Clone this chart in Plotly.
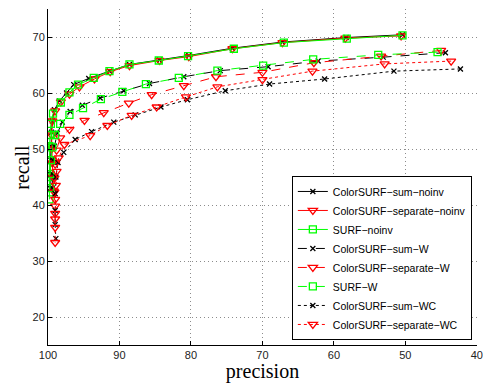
import plotly.graph_objects as go

# ---- data (precision, recall) ----
x_sum_noinv = [50.4, 58.3, 67.2, 74.2, 80.3, 84.4, 88.6, 91.4, 94.3, 96.4, 97.4, 98.4, 99.1, 99.4, 99.5, 99.6, 99.6, 99.7, 99.7]
y_sum_noinv = [70.4, 69.9, 69.1, 68.0, 66.7, 65.9, 65.1, 63.9, 62.6, 61.5, 60.0, 58.6, 57.0, 55.0, 53.0, 50.5, 48.0, 45.5, 43.0]

x_sep_noinv = [50.6, 58.4, 67.2, 74.2, 80.3, 84.4, 88.6, 91.3, 93.5, 95.6, 97.0, 98.2, 99.0, 99.4, 99.5, 99.5, 99.4, 99.3, 99.2]
y_sep_noinv = [70.2, 69.8, 69.0, 67.9, 66.5, 65.8, 64.9, 63.8, 62.5, 61.1, 59.8, 58.4, 56.8, 55.0, 52.5, 50.0, 47.5, 45.0, 42.5]

x_surf_noinv = [50.4, 58.2, 67.0, 74.0, 80.4, 84.5, 88.6, 91.4, 93.6, 95.8, 97.0, 98.2, 99.3, 99.6, 99.7, 99.8, 99.8, 99.8, 99.8]
y_surf_noinv = [70.3, 69.7, 69.0, 67.9, 66.6, 65.8, 65.1, 63.9, 62.7, 61.5, 60.1, 58.3, 56.3, 54.5, 52.5, 50.5, 48.0, 45.0, 41.0]

x_sum_w = [44.4, 53.1, 62.2, 69.2, 75.9, 81.0, 85.8, 89.4, 92.7, 95.2, 96.9, 98.0, 98.7, 99.1, 99.3, 99.4, 99.4]
y_sum_w = [67.2, 66.4, 65.7, 64.7, 64.0, 62.9, 61.7, 60.4, 59.1, 57.8, 56.7, 54.8, 52.8, 50.5, 48.0, 45.5, 43.0]

x_sep_w = [45.0, 53.4, 62.8, 70.0, 76.5, 81.0, 85.5, 88.7, 92.2, 94.9, 97.0, 98.3, 98.8, 99.0, 99.1, 99.1, 99.0, 99.0]
y_sep_w = [67.6, 66.6, 65.4, 63.7, 62.9, 61.3, 59.7, 58.2, 56.5, 55.1, 53.5, 52.0, 49.8, 47.3, 44.8, 42.3, 39.8, 37.5]

x_surf_w = [45.5, 53.8, 62.9, 69.9, 76.3, 81.7, 86.3, 89.6, 92.6, 95.1, 97.0, 98.3, 99.0, 99.4, 99.6, 99.7, 99.7]
y_surf_w = [67.3, 66.8, 66.0, 64.9, 64.0, 62.7, 61.6, 60.2, 58.9, 57.3, 56.1, 54.5, 52.5, 50.3, 48.0, 45.5, 43.0]

x_sum_wc = [42.3, 51.6, 61.3, 69.0, 75.2, 80.5, 84.2, 87.8, 90.8, 93.9, 96.2, 97.8, 98.6, 98.9, 99.0, 99.0, 99.0, 98.9]
y_sum_wc = [64.3, 63.9, 62.5, 61.6, 60.4, 58.8, 57.5, 56.1, 54.8, 53.1, 51.7, 49.4, 47.6, 45.0, 42.0, 39.0, 36.5, 34.0]

x_sep_wc = [43.6, 52.9, 63.0, 70.0, 76.3, 80.7, 84.8, 88.3, 91.7, 94.1, 97.7, 98.5, 98.8, 98.9, 99.0, 99.0, 99.0, 99.0]
y_sep_wc = [65.7, 65.2, 63.9, 62.4, 61.1, 59.3, 57.5, 56.0, 54.2, 52.4, 50.8, 48.4, 46.0, 43.5, 41.0, 38.5, 36.0, 33.3]

x_ticks = [100, 90, 80, 70, 60, 50, 40]
y_ticks = [20, 30, 40, 50, 60, 70]

series = [
    ("ColorSURF\u2212sum\u2212noinv", x_sum_noinv, y_sum_noinv, "#000000", "solid", "x-thin", 5),
    ("ColorSURF\u2212separate\u2212noinv", x_sep_noinv, y_sep_noinv, "#ff0000", "solid", "triangle-down-open", 8),
    ("SURF\u2212noinv", x_surf_noinv, y_surf_noinv, "#00ff00", "solid", "square-open", 7),
    ("ColorSURF\u2212sum\u2212W", x_sum_w, y_sum_w, "#000000", "dash", "x-thin", 5),
    ("ColorSURF\u2212separate\u2212W", x_sep_w, y_sep_w, "#ff0000", "dash", "triangle-down-open", 8),
    ("SURF\u2212W", x_surf_w, y_surf_w, "#00ff00", "dash", "square-open", 7),
    ("ColorSURF\u2212sum\u2212WC", x_sum_wc, y_sum_wc, "#000000", "dot", "x-thin", 5),
    ("ColorSURF\u2212separate\u2212WC", x_sep_wc, y_sep_wc, "#ff0000", "dot", "triangle-down-open", 8),
]

fig = go.Figure()
for name, xs, ys, col, dash, sym, sz in series:
    fig.add_trace(go.Scatter(
        x=xs, y=ys, name=name, mode="lines+markers",
        line=dict(color=col, width=1, dash=dash),
        marker=dict(symbol=sym, size=sz, color=col, line=dict(color=col, width=1.3)),
    ))

axis_common = dict(
    showline=True, linecolor="#000000", linewidth=1,
    ticks="inside", ticklen=4, tickcolor="#000000",
    showgrid=True, gridcolor="#8c8c8c", griddash="1px,3px", gridwidth=1,
    zeroline=False, mirror=False,
    tickfont=dict(family="Liberation Sans, Arial, sans-serif", size=11, color="#222222"),
    automargin=False,
)

fig.update_xaxes(
    range=[100, 39.98], tickvals=x_ticks, ticktext=[str(v) for v in x_ticks],
    title=dict(text="precision", font=dict(family="Liberation Serif, Times New Roman, serif", size=20, color="#000000"), standoff=0),
    **axis_common,
)
fig.update_yaxes(
    range=[15, 75], tickvals=y_ticks, ticktext=[str(v) for v in y_ticks],
    **axis_common,
)

fig.update_layout(
    width=483, height=383,
    margin=dict(l=48, r=6, t=9, b=38),
    plot_bgcolor="#ffffff", paper_bgcolor="#ffffff",
    legend=dict(
        x=0.988, y=0.015, xanchor="right", yanchor="bottom",
        bgcolor="#ffffff", bordercolor="#000000", borderwidth=1,
        font=dict(family="Liberation Sans, Arial, sans-serif", size=10.5, color="#000000"),
        itemwidth=30, tracegroupgap=0,
    ),
    showlegend=True,
    annotations=[dict(
        text="recall", xref="paper", yref="paper", x=-0.061, y=0.53,
        xanchor="center", yanchor="middle", textangle=-90, showarrow=False,
        font=dict(family="Liberation Serif, Times New Roman, serif", size=20, color="#000000"),
    )],
)

fig.write_html("out.html", config={"displayModeBar": False},
               post_script="document.body.style.margin='0';document.body.style.overflow='hidden';")
